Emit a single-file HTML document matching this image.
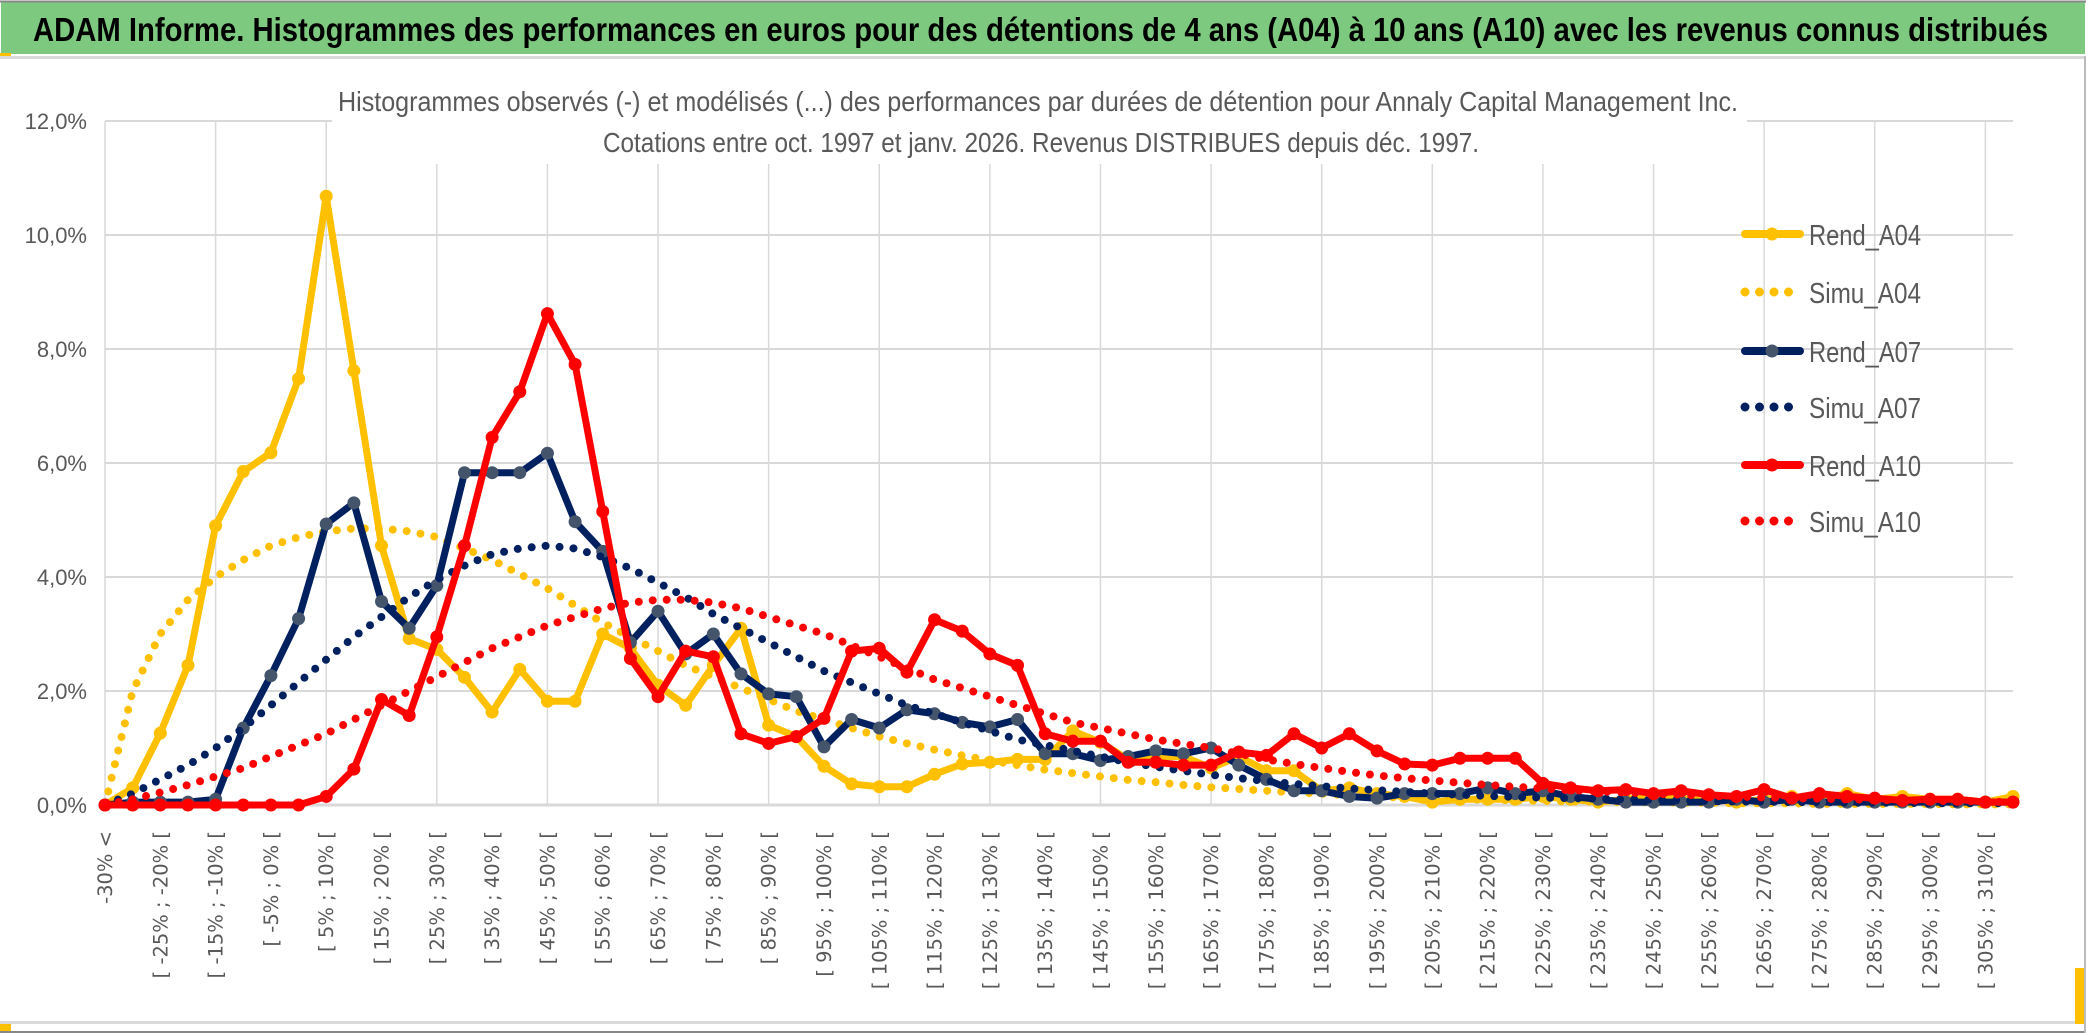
<!DOCTYPE html>
<html><head><meta charset="utf-8"><style>
html,body{margin:0;padding:0;background:#fff;}
svg{display:block;}
text{font-family:"Liberation Sans Narrow","Liberation Sans",sans-serif;}
</style></head><body>
<svg id="chart" width="2086" height="1033" viewBox="0 0 2086 1033" xmlns="http://www.w3.org/2000/svg">
<rect x="0" y="0" width="2086" height="1033" fill="#fff"/>
<rect x="1" y="2" width="2084" height="52" fill="#7DC97F"/>
<line x1="0" y1="1.5" x2="2086" y2="1.5" stroke="#888" stroke-width="2"/>
<text x="33" y="41" font-size="33" font-weight="bold" fill="#000" textLength="2015" lengthAdjust="spacingAndGlyphs">ADAM Informe. Histogrammes des performances en euros pour des détentions de 4 ans (A04) à 10 ans (A10) avec les revenus connus distribués</text>
<rect x="0" y="53" width="11" height="4" fill="#FFC000"/>
<rect x="0" y="56" width="2086" height="3" fill="#d9d9d9"/>
<rect x="0" y="1021" width="2086" height="3" fill="#d9d9d9"/>
<rect x="0" y="1024" width="11" height="8" fill="#FFC000"/>
<rect x="2075" y="968" width="11" height="56" fill="#FFC000"/>
<line x1="0" y1="1032" x2="2086" y2="1032" stroke="#888" stroke-width="2"/>
<line x1="2085" y1="56" x2="2085" y2="1033" stroke="#bbb" stroke-width="2"/>
<g id="grid"></g>
<g id="titles">
<rect x="332" y="78" width="1415" height="86" fill="#fff"/>
<text x="1038" y="111" font-size="28" fill="#595959" text-anchor="middle" textLength="1400" lengthAdjust="spacingAndGlyphs">Histogrammes observés (-) et modélisés (...) des performances  par durées de détention pour Annaly Capital Management Inc.</text>
<text x="1041" y="152" font-size="28" fill="#595959" text-anchor="middle" textLength="876" lengthAdjust="spacingAndGlyphs">Cotations entre oct. 1997 et janv. 2026. Revenus DISTRIBUES depuis déc. 1997.</text>
</g>
<g id="yaxis"></g>
<g id="xaxis"></g>
<g id="series"></g>
<g id="legend"></g>
</svg>
<script>
const rendA04 = [0,0.3,1.26,2.45,4.9,5.85,6.18,7.48,10.68,7.62,4.55,2.92,2.73,2.24,1.63,2.38,1.82,1.82,3.0,2.75,2.1,1.75,2.45,3.1,1.4,1.2,0.68,0.37,0.32,0.32,0.54,0.72,0.75,0.8,0.8,1.3,1.1,0.8,0.85,0.85,0.65,0.85,0.6,0.6,0.25,0.3,0.2,0.15,0.05,0.1,0.1,0.1,0.15,0.1,0.05,0.1,0.15,0.1,0.1,0.05,0.1,0.15,0.1,0.2,0.1,0.15,0.1,0.1,0.05,0.15];
const simuA04 = [0,2.0,3.0,3.6,4.0,4.3,4.55,4.7,4.8,4.85,4.85,4.8,4.7,4.5,4.3,4.05,3.8,3.5,3.2,2.95,2.7,2.45,2.25,2.05,1.85,1.65,1.5,1.35,1.2,1.08,0.97,0.87,0.78,0.7,0.62,0.56,0.5,0.44,0.4,0.35,0.31,0.28,0.25,0.22,0.2,0.17,0.15,0.13,0.12,0.1,0.09,0.08,0.07,0.06,0.06,0.05,0.05,0.04,0.04,0.03,0.03,0.03,0.02,0.02,0.02,0.02,0.02,0.01,0.01,0.01];
const rendA07 = [0,0.05,0.05,0.05,0.1,1.35,2.27,3.27,4.93,5.3,3.57,3.1,3.85,5.83,5.83,5.83,6.17,4.97,4.45,2.85,3.4,2.65,3.0,2.3,1.95,1.9,1.02,1.5,1.35,1.67,1.6,1.45,1.37,1.5,0.9,0.9,0.78,0.85,0.95,0.9,1.0,0.7,0.45,0.25,0.25,0.15,0.12,0.2,0.2,0.2,0.3,0.2,0.25,0.15,0.1,0.05,0.05,0.05,0.05,0.1,0.05,0.1,0.05,0.05,0.05,0.05,0.05,0.05,0.05,0.05];
const simuA07 = [0,0.2,0.45,0.7,1.0,1.35,1.75,2.15,2.55,2.95,3.3,3.65,3.95,4.2,4.4,4.5,4.55,4.5,4.35,4.15,3.9,3.65,3.35,3.1,2.85,2.6,2.35,2.15,1.95,1.75,1.6,1.45,1.3,1.15,1.05,0.95,0.85,0.75,0.67,0.6,0.53,0.47,0.42,0.37,0.33,0.29,0.26,0.23,0.2,0.18,0.16,0.14,0.13,0.12,0.11,0.1,0.09,0.08,0.07,0.06,0.06,0.05,0.05,0.04,0.04,0.04,0.03,0.03,0.03,0.03];
const rendA10 = [0,0,0,0,0,0,0,0,0.15,0.63,1.85,1.57,2.95,4.55,6.45,7.25,8.62,7.73,5.15,2.57,1.9,2.7,2.6,1.25,1.08,1.2,1.52,2.7,2.75,2.33,3.25,3.05,2.65,2.45,1.25,1.12,1.12,0.75,0.75,0.7,0.7,0.93,0.87,1.25,1.0,1.25,0.95,0.72,0.7,0.82,0.82,0.82,0.38,0.3,0.25,0.27,0.2,0.25,0.18,0.15,0.27,0.12,0.2,0.15,0.12,0.08,0.1,0.1,0.05,0.05];
const simuA10 = [0,0.1,0.22,0.35,0.5,0.65,0.85,1.05,1.25,1.5,1.75,2.0,2.25,2.5,2.75,2.95,3.15,3.3,3.45,3.55,3.6,3.6,3.55,3.45,3.3,3.15,3.0,2.8,2.6,2.4,2.2,2.05,1.9,1.75,1.6,1.45,1.35,1.25,1.15,1.07,1.0,0.9,0.8,0.72,0.65,0.58,0.52,0.47,0.43,0.39,0.35,0.32,0.29,0.26,0.24,0.22,0.2,0.18,0.16,0.15,0.13,0.12,0.11,0.1,0.09,0.08,0.07,0.07,0.06,0.05];
const yTicks = [0,2,4,6,8,10,12];
const yTickLabels = ["0,0%","2,0%","4,0%","6,0%","8,0%","10,0%","12,0%"];
const seriesNames = ["Rend_A04","Simu_A04","Rend_A07","Simu_A07","Rend_A10","Simu_A10"];

const categories = [];
categories.push("-30% <");
for (let k = 1; k < rendA04.length; k++) {
  const a = -30 + 5*(k-1), b = a + 5;
  categories.push("[ " + a + "% ; " + b + "% [");
}

const NS = "http://www.w3.org/2000/svg";
const X0 = 105, X1 = 2013, Y0 = 805, Y12 = 121;
function xPos(i){ return X0 + i*(X1-X0)/(categories.length-1); }
function yPos(v){ return Y0 - v*(Y0-Y12)/12; }
function mk(tag, attrs, parent){
  const e = document.createElementNS(NS, tag);
  for (const k in attrs) e.setAttribute(k, attrs[k]);
  parent.appendChild(e); return e;
}

const grid = document.getElementById('grid');
yTicks.forEach(t => {
  const l = mk('line', {x1:X0, x2:X1, y1:yPos(t), y2:yPos(t), stroke:'#d9d9d9', 'stroke-width': t===0?3:2}, grid);
  
  
});
for (let i = 0; i < categories.length; i += 4) {
  const l = mk('line', {x1:xPos(i), x2:xPos(i), y1:Y12, y2:Y0, stroke:'#d9d9d9', 'stroke-width':1.5}, grid);
  
  
}

const ya = document.getElementById('yaxis');
yTicks.forEach((t, i) => {
  const tx = mk('text', {x:87, y:yPos(t)+8, 'font-size':22, fill:'#595959', 'text-anchor':'end'}, ya);
  tx.textContent = yTickLabels[i];
  
  
});

const xa = document.getElementById('xaxis');
categories.forEach((c, i) => {
  if (i % 2 === 1) return;
  const x = xPos(i) + 7, y = 831;
  const tx = mk('text', {x:x, y:y, 'font-size':19.5, fill:'#595959', 'text-anchor':'end', transform:'rotate(-90 '+x+' '+y+')', style:'font-family:"DejaVu Sans",sans-serif'}, xa);
  tx.textContent = c;
  
  
});

const sg = document.getElementById('series');
function drawSeries(vals, color, dotted, marker, name){
  const g = mk('g', {}, sg);
  
  
  const pts = vals.map((v,i) => xPos(i).toFixed(1)+','+yPos(v).toFixed(1)).join(' ');
  const pl = mk('polyline', {points:pts, fill:'none', stroke:color, 'stroke-linejoin':'round', 'stroke-linecap':'round',
    'stroke-width': dotted ? 8 : 7, 'stroke-dasharray': dotted ? '0 14' : 'none'}, g);
  
  
  if (marker) {
    vals.forEach((v,i) => {
      const c = mk('circle', {cx:xPos(i), cy:yPos(v), r:6.5, fill:marker}, g);
      
      
    });
  }
}
drawSeries(rendA04, '#FFC000', false, '#FFC000', 'Rend_A04');
drawSeries(simuA04, '#FFC000', true, null, 'Simu_A04');
drawSeries(rendA07, '#002060', false, '#44546A', 'Rend_A07');
drawSeries(simuA07, '#002060', true, null, 'Simu_A07');
drawSeries(rendA10, '#FF0000', false, '#FF0000', 'Rend_A10');
drawSeries(simuA10, '#FF0000', true, null, 'Simu_A10');

const lg = document.getElementById('legend');
const lColors = ['#FFC000','#FFC000','#002060','#002060','#FF0000','#FF0000'];
const lMarkers = ['#FFC000',null,'#44546A',null,'#FF0000',null];
const lY = [234,292,351,407,465,521];
seriesNames.forEach((n, i) => {
  const g = mk('g', {}, lg);
  
  
  const dotted = n.startsWith('Simu');
  mk('line', {x1:1745, x2:1800, y1:lY[i], y2:lY[i], stroke:lColors[i], 'stroke-width': dotted?9:8, 'stroke-linecap':'round', 'stroke-dasharray': dotted?'0 14.5':'none'}, g);
  if (lMarkers[i]) mk('circle', {cx:1772, cy:lY[i], r:6.5, fill:lMarkers[i]}, g);
  const t = mk('text', {x:1809, y:lY[i]+11, 'font-size':29, fill:'#595959', textLength:112, lengthAdjust:'spacingAndGlyphs'}, g);
  t.textContent = n;
});
</script>
</body></html>
